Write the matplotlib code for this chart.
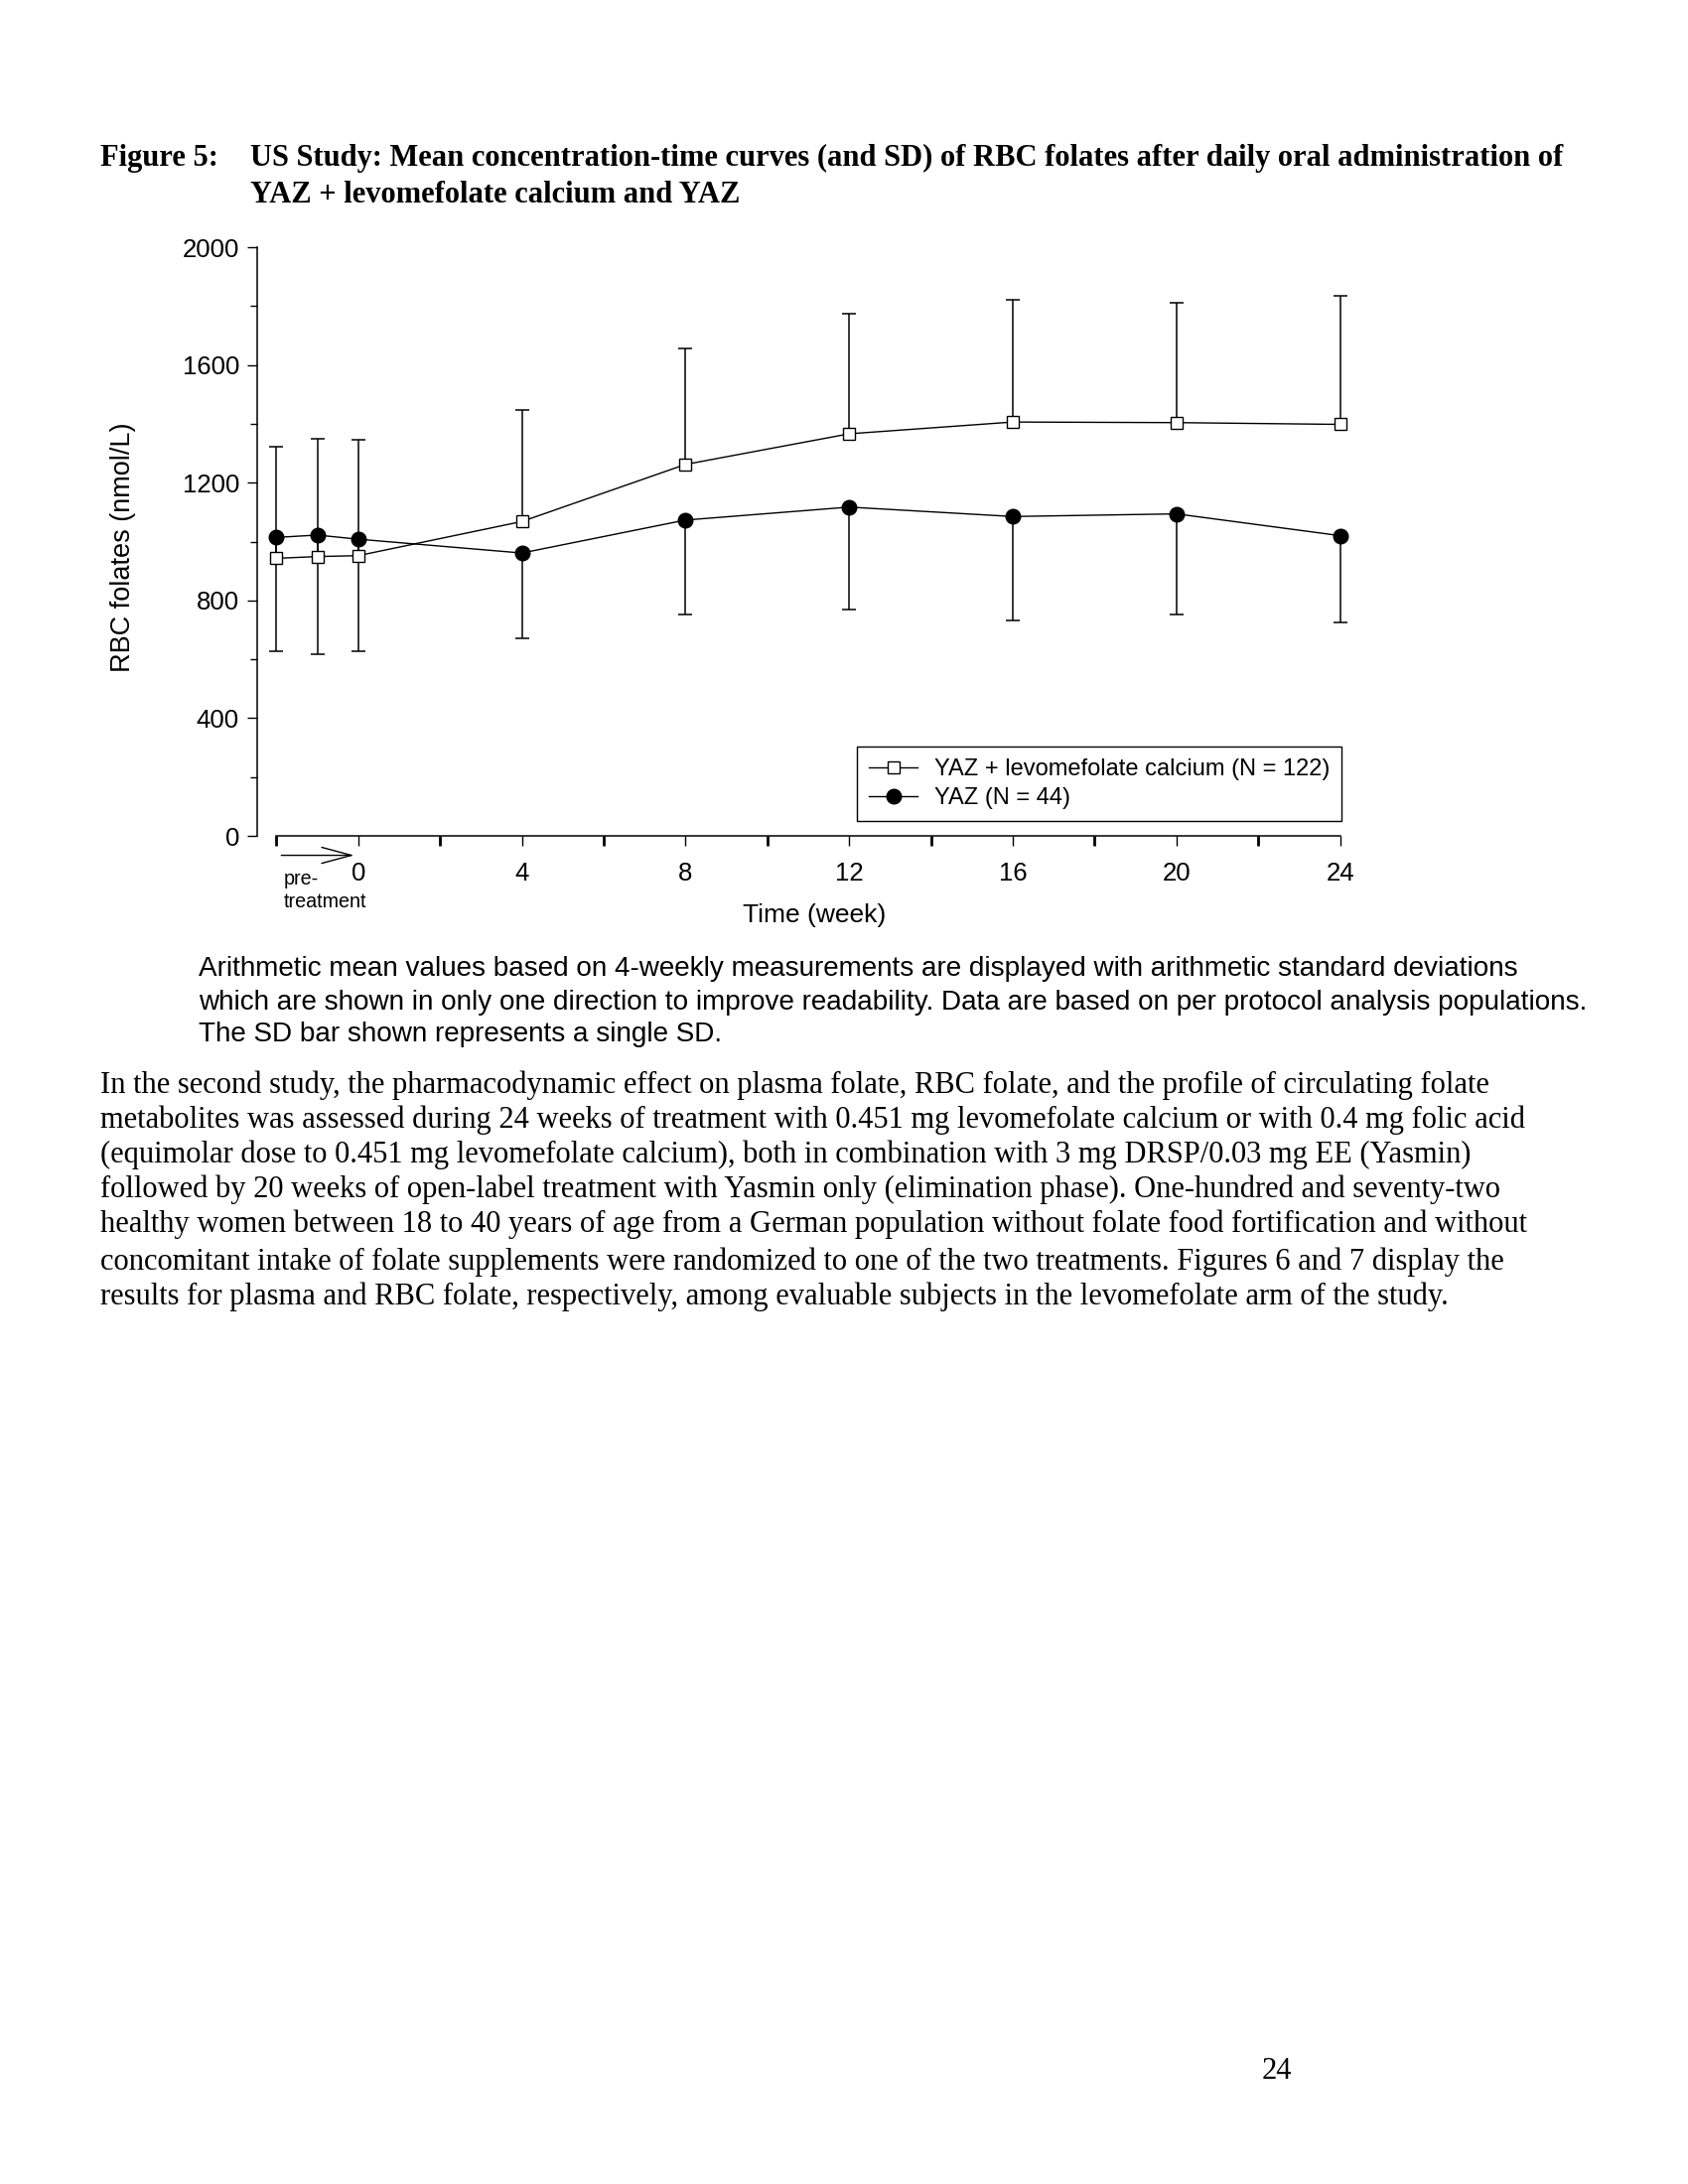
import numpy as np
import matplotlib
matplotlib.use("Agg")
import matplotlib.pyplot as plt
from matplotlib.ticker import FixedLocator


# values
weeks = [-2, -1, 0, 4, 8, 12, 16, 20, 24]
levo_mean = [943, 949, 952, 1068, 1262, 1366, 1406, 1404, 1398]
levo_sd = [378, 401, 395, 380, 395, 409, 416, 408, 437]
yaz_mean = [1014, 1022, 1008, 961, 1073, 1117, 1085, 1094, 1020]
yaz_sd = [387, 405, 380, 290, 320, 347, 354, 341, 295]

levo_label = "YAZ + levomefolate calcium (N = 122)"
yaz_label = "YAZ (N = 44)"

x_major = [0, 4, 8, 12, 16, 20, 24]
x_minor = [-2, 2, 6, 10, 14, 18, 22]
y_major = [0, 400, 800, 1200, 1600, 2000]
y_minor = [200, 600, 1000, 1400, 1800]

title_1 = "US Study: Mean concentration-time curves (and SD) of RBC folates after daily oral administration of"
title_2 = "YAZ + levomefolate calcium and YAZ"

caption = [
    "Arithmetic mean values based on 4-weekly measurements are displayed with arithmetic standard deviations",
    "which are shown in only one direction to improve readability. Data are based on per protocol analysis populations.",
    "The SD bar shown represents a single SD.",
]

body = [
    "In the second study, the pharmacodynamic effect on plasma folate, RBC folate, and the profile of circulating folate",
    "metabolites was assessed during 24 weeks of treatment with 0.451 mg levomefolate calcium or with 0.4 mg folic acid",
    "(equimolar dose to 0.451 mg levomefolate calcium), both in combination with 3 mg DRSP/0.03 mg EE (Yasmin)",
    "followed by 20 weeks of open-label treatment with Yasmin only (elimination phase). One-hundred and seventy-two",
    "healthy women between 18 to 40 years of age from a German population without folate food fortification and without",
    "concomitant intake of folate supplements were randomized to one of the two treatments. Figures 6 and 7 display the",
    "results for plasma and RBC folate, respectively, among evaluable subjects in the levomefolate arm of the study.",
]

SANS = "Liberation Sans"
SERIF = "Liberation Serif"
W, H = 1700, 2200

fig = plt.figure(figsize=(W / 100, H / 100), dpi=100)
fig.patch.set_facecolor("white")


def px(x, y):
    # page pixel -> figure fraction
    return x / W, 1 - y / H


# ---- page text ----
fig.text(*px(101, 159), "Figure 5:", family=SERIF, weight="bold", fontsize=22, va="center")
fig.text(*px(252, 159), title_1, family=SERIF, weight="bold", fontsize=22, va="center")
fig.text(*px(252, 196), title_2, family=SERIF, weight="bold", fontsize=22, va="center")

for yy, line in zip([976, 1010, 1042], caption):
    fig.text(*px(200, yy), line, family=SANS, fontsize=20.1, va="center")

for yy, line in zip([1093, 1128, 1163, 1198, 1233, 1271, 1306], body):
    fig.text(*px(101, yy), line, family=SERIF, fontsize=22, va="center")

fig.text(*px(1286, 2087), "24", family=SERIF, fontsize=22, ha="center", va="center")

# ---- chart ----
ax = fig.add_axes([259 / W, 1 - 842 / H, 1131.8 / W, 593 / H])
ax.set_xlim(-2.47, 25)
ax.set_ylim(0, 2000)

x = np.array(weeks)
lm, ls = np.array(levo_mean), np.array(levo_sd)
ym, ys = np.array(yaz_mean), np.array(yaz_sd)

# SD only in one direction: up for levomefolate, down for YAZ
ax.vlines(x, lm, lm + ls, color="black", lw=1.1, zorder=2, clip_on=False)
ax.plot(x, lm + ls, ls="none", marker="_", ms=10.5, mew=1.1, color="black", clip_on=False)
ax.vlines(x, ym - ys, ym, color="black", lw=1.1, zorder=2)
ax.plot(x, ym - ys, ls="none", marker="_", ms=10.5, mew=1.1, color="black")

ax.plot(x, lm, color="black", lw=1.0, marker="s", ms=8, mfc="white", mec="black",
        mew=1.0, label=levo_label, zorder=4)
ax.plot(x, ym, color="black", lw=1.0, marker="o", ms=10.5, mfc="black", mec="black",
        label=yaz_label, zorder=4)

for side in ["top", "right"]:
    ax.spines[side].set_visible(False)
ax.spines["left"].set_bounds(0, 2000)
ax.spines["bottom"].set_bounds(-2, 24)
for side in ["left", "bottom"]:
    ax.spines[side].set_linewidth(1.1)

ax.xaxis.set_major_locator(FixedLocator(x_major))
ax.xaxis.set_minor_locator(FixedLocator(x_minor))
ax.yaxis.set_major_locator(FixedLocator(y_major))
ax.yaxis.set_minor_locator(FixedLocator(y_minor))
ax.tick_params(axis="x", which="major", direction="out", length=7, width=1.0, pad=12)
ax.tick_params(axis="x", which="minor", direction="out", length=7, width=2.0)
ax.tick_params(axis="y", which="major", direction="out", length=7, width=1.0, pad=6)
ax.tick_params(axis="y", which="minor", direction="out", length=5, width=1.0)
for lab in ax.get_xticklabels() + ax.get_yticklabels():
    lab.set_family(SANS)
    lab.set_fontsize(18.5)

ax.set_xlabel("Time (week)", family=SANS, fontsize=19)
ax.xaxis.set_label_coords(0.4957, -0.115)
ax.set_ylabel("RBC folates (nmol/L)", family=SANS, fontsize=19.5)
ax.yaxis.set_label_coords(-0.108, 0.49)

# pre-treatment arrow and note (two lines kept apart so "treatment" sits under the 0 label)
ax.annotate("", xy=(-0.1, -0.033), xytext=(-1.88, -0.033),
            xycoords=ax.get_xaxis_transform(), textcoords=ax.get_xaxis_transform(),
            arrowprops=dict(arrowstyle="->,head_length=1.08,head_width=0.29",
                            lw=1.0, color="black", shrinkA=0, shrinkB=0,
                            mutation_scale=20))
ax.text(-1.83, -0.083, "pre-", transform=ax.get_xaxis_transform(),
        family=SANS, fontsize=14.2, va="baseline", ha="left")
ax.text(-1.83, -0.122, "treatment", transform=ax.get_xaxis_transform(),
        family=SANS, fontsize=14.2, va="baseline", ha="left")

leg = ax.legend(loc="lower right", bbox_to_anchor=px(1351, 827),
                bbox_transform=fig.transFigure, borderaxespad=0,
                prop={"family": SANS, "size": 17}, handlelength=2.1,
                handletextpad=0.7, labelspacing=0.3, borderpad=0.5,
                fancybox=False, framealpha=1, edgecolor="black")
leg.get_frame().set_linewidth(1.0)

fig.savefig("out.png", dpi=100, facecolor="white")
